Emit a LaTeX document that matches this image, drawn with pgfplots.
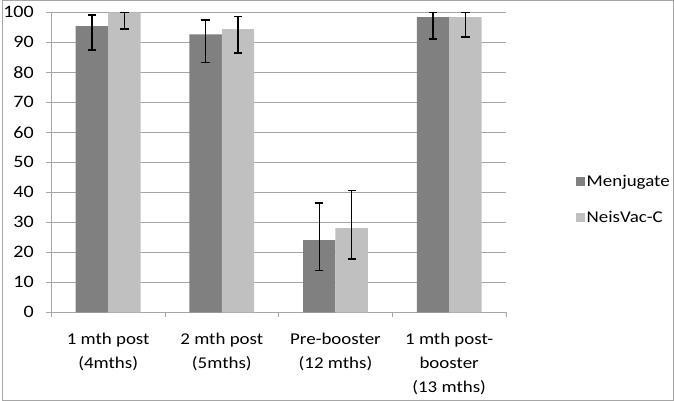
\documentclass[border=0pt]{standalone}
\usepackage{pgfplots}
\pgfplotsset{compat=1.18}
\usepackage{fontspec}
\setmainfont{Carlito}[FakeStretch=1.15]
\definecolor{darkbar}{HTML}{808080}
\definecolor{lightbar}{HTML}{C0C0C0}
\definecolor{gridgray}{HTML}{A6A6A6}
\begin{document}
\begin{tikzpicture}[x=1pt,y=1pt]
\draw[gridgray,line width=1pt] (0.5,0.5) rectangle (673.5,401.5);
\begin{axis}[
  at={(49.5pt,88.7pt)}, anchor=south west,
  scale only axis, width=456pt, height=301pt,
  ymin=0, ymax=100, ytick={0,10,...,100},
  xmin=-0.5, xmax=3.5,
  xtick={0,1,2,3},
  xticklabels={{1 mth post\\(4mths)},{2 mth post\\(5mths)},{Pre-booster\\(12 mths)},{1 mth post-\\booster\\(13 mths)}},
  xticklabel style={align=center, font=\fontsize{16.5}{24}\selectfont, anchor=north, yshift=-12pt},
  yticklabel style={font=\fontsize{17.5}{19}\selectfont, xshift=-9pt},
  /pgf/number format/assume math mode=true,
  major x tick style={draw=none},
  minor xtick={-0.5,0.5,1.5,2.5,3.5},
  minor tick length=5pt,
  major tick length=5pt,
  tick align=outside,
  xtick pos=bottom, ytick pos=left,
  tick style={gridgray, line width=0.8pt},
  ymajorgrids, grid style={gridgray, line width=1pt},
  axis line style={gridgray, line width=1pt},
  axis x line*=bottom, axis y line*=left,
  ybar, bar width=32.5pt,
  clip=false,
  legend style={at={(1.153,0.376)}, anchor=west, draw=none, fill=none,
    font=\fontsize{16.5}{18}\selectfont, row sep=19pt, inner sep=0pt,
    nodes={inner sep=2pt}},
  legend cell align=left,
  legend image code/.code={\fill[#1] (-5pt,-4.5pt) rectangle (4pt,4.5pt);},
  error bars/error bar style={black, line width=1.5pt},
  error bars/error mark options={rotate=90, black, mark size=4.2pt, line width=1.5pt},
]
\addplot[fill=darkbar, draw=none, bar shift=-16.25pt,
  error bars/.cd, y dir=both, y explicit]
  coordinates {
  (0,95.4) += (0,3.7) -= (0,8.0)
  (1,92.6) += (0,4.9) -= (0,9.3)
  (2,24.1) += (0,12.4) -= (0,10.2)
  (3,98.4) += (0,1.5) -= (0,7.3)
  };
\addplot[fill=lightbar, draw=none, bar shift=16.25pt,
  error bars/.cd, y dir=both, y explicit]
  coordinates {
  (0,100) += (0,0) -= (0,5.5)
  (1,94.4) += (0,4.2) -= (0,8.0)
  (2,28.1) += (0,12.5) -= (0,10.3)
  (3,98.4) += (0,1.5) -= (0,6.6)
  };
\legend{Menjugate, NeisVac-C}
\end{axis}
\end{tikzpicture}
\end{document}
